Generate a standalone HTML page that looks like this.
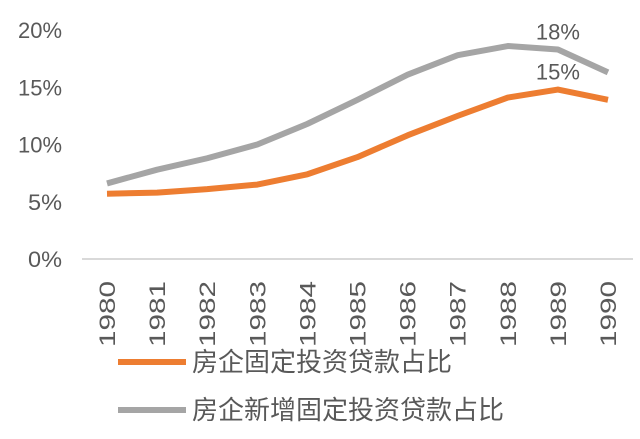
<!DOCTYPE html>
<html><head><meta charset="utf-8"><style>
body{margin:0;background:#fff}
svg text{font-family:"Liberation Sans","Noto Sans CJK SC",sans-serif;fill:#595959}
</style></head><body>
<svg id="c" width="640" height="434" xmlns="http://www.w3.org/2000/svg"></svg>
<script>
const years=["1980","1981","1982","1983","1984","1985","1986","1987","1988","1989","1990"];
const seriesA=[5.7,5.8,6.1,6.5,7.4,8.9,10.8,12.5,14.1,14.8,13.9];
const seriesB=[6.6,7.8,8.8,10.0,11.8,13.9,16.1,17.8,18.6,18.3,16.3];
const yTicks=[0,5,10,15,20];
const NS="http://www.w3.org/2000/svg";
const svg=document.getElementById('c');
const x=i=>107+i*50.1;
const y=v=>259-v*11.45;
function mk(t,a,p){const e=document.createElementNS(NS,t);for(const k in a)e.setAttribute(k,a[k]);(p||svg).appendChild(e);return e;}
const ax=mk('line',{x1:82,x2:633,y1:259,y2:259,stroke:'#d9d9d9','stroke-width':2});


yTicks.forEach(v=>{const t=mk('text',{x:62,y:y(v)+8,'font-size':22,'text-anchor':'end',textLength:(v<10?34:44),lengthAdjust:'spacingAndGlyphs'});t.textContent=v+'%';

});
years.forEach((yr,i)=>{const t=mk('text',{x:0,y:0,'font-size':22,'text-anchor':'end',transform:`translate(${x(i)+8},281) rotate(-90)`,textLength:66,lengthAdjust:'spacingAndGlyphs'});t.textContent=yr;

});
function line(d,c,n){const p=mk('path',{d:d.map((v,i)=>(i?'L':'M')+x(i)+','+y(v)).join(''),fill:'none',stroke:c,'stroke-width':6,'stroke-linejoin':'round'});

}
line(seriesB,'#a5a5a5','series-new-line');
line(seriesA,'#ed7d31','series-total-line');
const l1=mk('text',{x:x(9),y:y(seriesA[9])-10,'font-size':22,'text-anchor':'middle'});l1.textContent=Math.round(seriesA[9])+'%';


const l2=mk('text',{x:x(9),y:y(seriesB[9])-10,'font-size':22,'text-anchor':'middle'});l2.textContent=Math.round(seriesB[9])+'%';


const lg=[['#ed7d31','房企固定投资贷款占比',362],['#a5a5a5','房企新增固定投资贷款占比',410]];
lg.forEach(([c,s,yy])=>{const g=mk('g',{});


mk('line',{x1:118,x2:186,y1:yy,y2:yy,stroke:c,'stroke-width':6},g);
const t=mk('text',{x:192,y:yy+9,'font-size':26},g);t.textContent=s;});
</script>
</body></html>
